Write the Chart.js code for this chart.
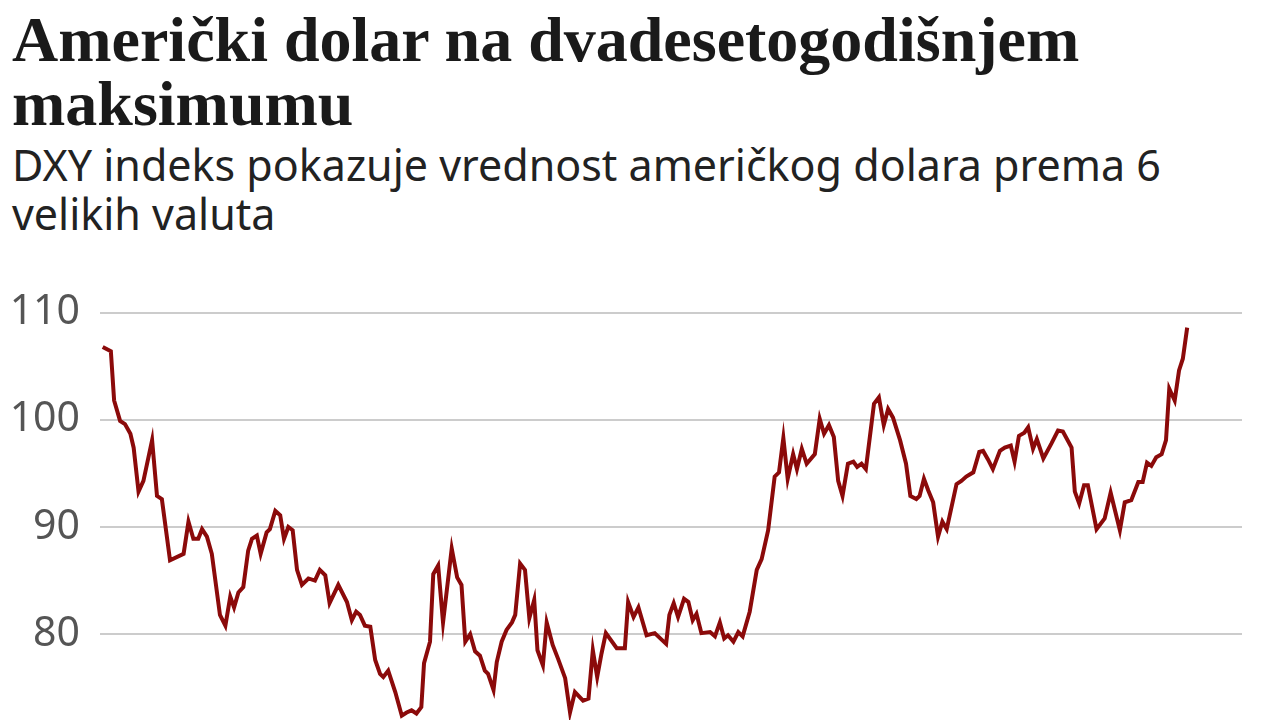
<!DOCTYPE html>
<html>
<head>
<meta charset="utf-8">
<script src="https://cdn.jsdelivr.net/npm/chart.js@4"></script>
<style>
  html, body { margin: 0; padding: 0; background: #fff; overflow: hidden; }
  body { width: 1280px; height: 720px; position: relative; }
  .title { position: absolute; left: 12px; top: 8px; font-family: "Liberation Serif", serif; font-weight: bold; font-size: 64px; line-height: 64px; color: #1a1a1a; white-space: nowrap; }
  .sub { position: absolute; left: 12px; top: 140px; font-family: "Noto Sans", sans-serif; font-size: 43px; line-height: 49px; color: #222; white-space: nowrap; }
  #wrap { position: absolute; left: 0; top: 268px; width: 1280px; height: 518px; }
</style>
</head>
<body>
<div class="title">Američki dolar na dvadesetogodišnjem<br>maksimumu</div>
<div class="sub">DXY indeks pokazuje vrednost američkog dolara prema 6<br>velikih valuta</div>
<div id="wrap"><canvas id="dxy"></canvas></div>
<script>
// DXY index (x = year as decimal)
const years = [
  2002.51, 2002.66, 2002.72, 2002.83, 2002.92, 2003.02, 2003.08, 2003.17, 2003.26, 2003.42,
  2003.51, 2003.60, 2003.75, 2004.00, 2004.09, 2004.18, 2004.27, 2004.34, 2004.43, 2004.52,
  2004.67, 2004.77, 2004.86, 2004.93, 2005.01, 2005.10, 2005.19, 2005.26, 2005.35, 2005.42,
  2005.53, 2005.59, 2005.69, 2005.78, 2005.85, 2005.93, 2006.01, 2006.09, 2006.18, 2006.30,
  2006.42, 2006.51, 2006.61, 2006.69, 2006.85, 2007.01, 2007.10, 2007.18, 2007.25, 2007.34,
  2007.44, 2007.53, 2007.62, 2007.68, 2007.77, 2007.90, 2008.02, 2008.11, 2008.20, 2008.29,
  2008.38, 2008.43, 2008.54, 2008.60, 2008.69, 2008.78, 2008.94, 2009.04, 2009.12, 2009.19,
  2009.28, 2009.37, 2009.46, 2009.55, 2009.61, 2009.71, 2009.77, 2009.86, 2009.95, 2010.05,
  2010.11, 2010.20, 2010.29, 2010.37, 2010.46, 2010.52, 2010.62, 2010.69, 2010.80, 2010.90,
  2011.03, 2011.12, 2011.21, 2011.36, 2011.46, 2011.54, 2011.62, 2011.70, 2011.78, 2011.98,
  2012.13, 2012.19, 2012.29, 2012.38, 2012.53, 2012.68, 2012.89, 2012.95, 2013.03, 2013.11,
  2013.22, 2013.30, 2013.38, 2013.45, 2013.54, 2013.70, 2013.79, 2013.88, 2013.96, 2014.03,
  2014.13, 2014.22, 2014.30, 2014.43, 2014.56, 2014.65, 2014.77, 2014.89, 2014.97, 2015.05,
  2015.13, 2015.23, 2015.30, 2015.39, 2015.48, 2015.63, 2015.72, 2015.80, 2015.89, 2015.98,
  2016.06, 2016.14, 2016.24, 2016.34, 2016.41, 2016.49, 2016.57, 2016.72, 2016.81, 2016.90,
  2016.98, 2017.07, 2017.20, 2017.31, 2017.39, 2017.50, 2017.56, 2017.64, 2017.72, 2017.81,
  2017.90, 2017.98, 2018.06, 2018.24, 2018.33, 2018.42, 2018.55, 2018.66, 2018.73, 2018.82,
  2018.91, 2019.04, 2019.13, 2019.24, 2019.31, 2019.39, 2019.49, 2019.56, 2019.65, 2019.72,
  2019.84, 2019.99, 2020.11, 2020.20, 2020.36, 2020.42, 2020.50, 2020.59, 2020.66, 2020.82,
  2020.97, 2021.08, 2021.25, 2021.34, 2021.46, 2021.59, 2021.67, 2021.75, 2021.83, 2021.92,
  2022.02, 2022.10, 2022.16, 2022.26, 2022.34, 2022.41, 2022.49
];
const dxy = [
  106.8, 106.4, 101.8, 99.9, 99.6, 98.7, 97.4, 93.3, 94.3, 98.1,
  92.9, 92.6, 86.9, 87.5, 90.5, 88.9, 88.9, 89.8, 89.1, 87.5,
  81.8, 80.8, 83.5, 82.5, 83.9, 84.4, 87.8, 88.9, 89.2, 87.5,
  89.5, 89.8, 91.5, 91.1, 88.9, 90.0, 89.7, 86.0, 84.6, 85.2,
  85.0, 86.0, 85.5, 82.9, 84.6, 83.0, 81.3, 82.1, 81.8, 80.8,
  80.7, 77.6, 76.3, 76.0, 76.6, 74.6, 72.4, 72.7, 72.9, 72.6,
  73.2, 77.3, 79.3, 85.6, 86.4, 81.1, 88.0, 85.3, 84.6, 79.3,
  80.0, 78.4, 78.0, 76.6, 76.3, 74.8, 77.4, 79.3, 80.4, 81.1,
  81.8, 86.6, 86.0, 81.5, 83.2, 78.5, 77.1, 81.1, 79.0, 77.7,
  75.9, 72.7, 74.6, 73.8, 74.0, 78.5, 76.0, 78.2, 80.1, 78.7,
  78.7, 83.0, 81.6, 82.5, 79.9, 80.1, 79.1, 81.8, 82.9, 81.6,
  83.3, 83.0, 81.3, 81.9, 80.1, 80.2, 79.8, 81.1, 79.6, 79.9,
  79.3, 80.2, 79.8, 82.1, 86.0, 87.0, 89.7, 94.7, 95.1, 98.3,
  94.5, 96.8, 95.4, 97.3, 95.9, 96.8, 100.1, 98.7, 99.5, 98.4,
  94.3, 92.9, 95.9, 96.1, 95.6, 95.9, 95.4, 101.5, 102.1, 99.5,
  101.0, 100.2, 98.1, 95.9, 92.9, 92.6, 92.9, 94.5, 93.4, 92.3,
  89.1, 90.5, 89.8, 94.0, 94.3, 94.7, 95.1, 97.0, 97.1, 96.3,
  95.4, 97.1, 97.4, 97.6, 96.1, 98.5, 98.8, 99.3, 97.3, 98.2,
  96.4, 97.8, 99.0, 98.9, 97.4, 93.3, 92.2, 93.9, 93.9, 89.8,
  90.8, 93.2, 89.7, 92.3, 92.5, 94.2, 94.2, 96.0, 95.7, 96.5,
  96.8, 98.1, 102.9, 101.8, 104.6, 105.7, 108.6
];
const yTicks = [70, 80, 90, 100, 110];

const points = years.map((y, i) => ({ x: y, y: dxy[i] }));

new Chart(document.getElementById('dxy'), {
  type: 'line',
  data: {
    datasets: [{
      data: points,
      borderColor: '#8b0a0a',
      borderWidth: 4,
      pointRadius: 0,
      tension: 0,
      fill: false
    }]
  },
  options: {
    responsive: true,
    maintainAspectRatio: false,
    animation: false,
    layout: { padding: { left: 12, right: 38, top: 12, bottom: 19 } },
    plugins: { legend: { display: false }, tooltip: { enabled: false } },
    scales: {
      x: {
        type: 'linear',
        display: false,
        min: 2002.46,
        max: 2023.5
      },
      y: {
        min: 70,
        max: 110,
        afterFit: (scale) => { scale.width = 88; },
        afterBuildTicks: (scale) => { scale.ticks = yTicks.map(v => ({ value: v })); },
        border: { display: false },
        grid: { color: '#cccccc', lineWidth: 2, drawTicks: false },
        ticks: {
          padding: 20,
          color: '#555555',
          font: { family: 'Noto Sans', size: 41 }
        }
      }
    }
  }
});
</script>
</body>
</html>
